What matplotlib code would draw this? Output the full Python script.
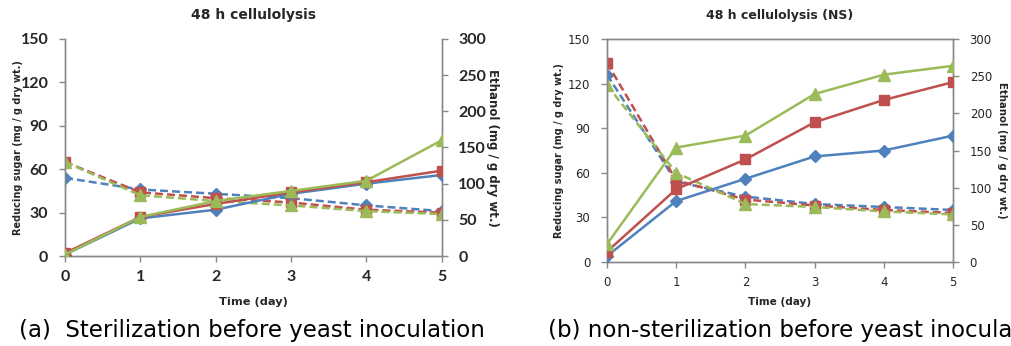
import matplotlib
matplotlib.use("Agg")
import matplotlib.pyplot as plt

days = [0, 1, 2, 3, 4, 5]

# panel (a) sterilized: reducing sugar (left axis) and ethanol (right axis)
sugar_a_blue = [54, 46, 43, 40, 35, 31]
sugar_a_red = [65, 44, 40, 37, 32, 30]
sugar_a_green = [65, 42, 38, 35, 31, 29]
ethanol_a_blue = [2, 52, 64, 86, 100, 112]
ethanol_a_red = [4, 54, 72, 88, 102, 118]
ethanol_a_green = [2, 54, 76, 90, 104, 160]

# panel (b) non-sterilized
sugar_b_blue = [126, 54, 44, 39, 37, 35]
sugar_b_red = [134, 55, 42, 38, 35, 33]
sugar_b_green = [119, 60, 39, 37, 34, 32]
ethanol_b_blue = [8, 82, 112, 142, 150, 170]
ethanol_b_red = [14, 98, 138, 188, 218, 242]
ethanol_b_green = [24, 154, 170, 226, 252, 264]

left_ticks = [0, 30, 60, 90, 120, 150]
right_ticks = [0, 50, 100, 150, 200, 250, 300]

BLUE = "#4F81BD"
RED = "#C0504D"
GREEN = "#9BBB59"
SPINE = "#878787"
TXT = "#262626"

W, H = 1012, 346
fig = plt.figure(figsize=(W / 100, H / 100), dpi=100)


def px(x, y):
    return x / W, 1 - y / H


def draw_panel(box, sugars, ethanols, title, caption, cap_x, tick_font, top_spine,
               lab_x, ylab_fs, rlab_fs, xlab_fs, title_fs):
    x0, y0, x1, y1 = box
    ax = fig.add_axes([x0 / W, 1 - y1 / H, (x1 - x0) / W, (y1 - y0) / H])
    ax2 = ax.twinx()
    styles = [(BLUE, "D", 6.5), (RED, "s", 7.5), (GREEN, "^", 8)]
    for (c, m, ms), s in zip(styles, sugars):
        ax.plot(days, s, color=c, ls=(0, (3.2, 1.6)), lw=1.8, marker=m, ms=ms,
                markeredgecolor=c, zorder=3)
    for (c, m, ms), e in zip(styles, ethanols):
        ax2.plot(days, e, color=c, ls="-", lw=1.8, marker=m, ms=ms,
                 markeredgecolor=c, zorder=3)
    ax.set_xlim(0, 5)
    ax.set_ylim(0, 150)
    ax2.set_ylim(0, 300)
    ax.set_xticks(days)
    ax.set_yticks(left_ticks)
    ax2.set_yticks(right_ticks)
    for a in (ax, ax2):
        for sp in a.spines.values():
            sp.set_color(SPINE)
            sp.set_linewidth(1.0)
        a.spines["top"].set_visible(top_spine)
        a.tick_params(direction="out", length=4, width=1, color=SPINE,
                      labelcolor=TXT, pad=8)
        for lab in a.get_xticklabels() + a.get_yticklabels():
            lab.set_fontproperties(tick_font)
    ax.tick_params(axis="x", pad=6)

    cx = (x0 + x1) / 2
    cy = (y0 + y1) / 2
    fig.text(*px(cx, 15), title, fontsize=title_fs, fontweight="bold", color=TXT,
             ha="center", va="center")
    fig.text(*px(cx, 302), "Time (day)", fontsize=xlab_fs, fontweight="bold",
             color=TXT, ha="center", va="center")
    fig.text(*px(lab_x[0], cy), "Reducing sugar (mg / g dry wt.)", fontsize=ylab_fs,
             fontweight="bold", color=TXT, rotation=90, ha="center", va="center")
    fig.text(*px(lab_x[1], cy), "Ethanol (mg / g dry wt.)", fontsize=rlab_fs,
             fontweight="bold", color=TXT, rotation=270, ha="center", va="center")
    fig.text(*px(cap_x, 330), caption, fontsize=16.5, color="black",
             ha="left", va="center")
    return ax


draw_panel((65, 39, 441.7, 256),
           [sugar_a_blue, sugar_a_red, sugar_a_green],
           [ethanol_a_blue, ethanol_a_red, ethanol_a_green],
           "48 h cellulolysis",
           "(a)  Sterilization before yeast inoculation", 19,
           {"family": "Lato", "weight": "bold", "size": 11.5}, False,
           (18, 493), 7, 8.5, 8.2, 10)

draw_panel((607, 39, 953, 262),
           [sugar_b_blue, sugar_b_red, sugar_b_green],
           [ethanol_b_blue, ethanol_b_red, ethanol_b_green],
           "48 h cellulolysis (NS)",
           "(b) non-sterilization before yeast inoculation", 548,
           {"family": "DejaVu Sans", "weight": "normal", "size": 8.5}, True,
           (559, 1002), 7, 7.3, 7.6, 9)

fig.savefig("out.png", dpi=100)
